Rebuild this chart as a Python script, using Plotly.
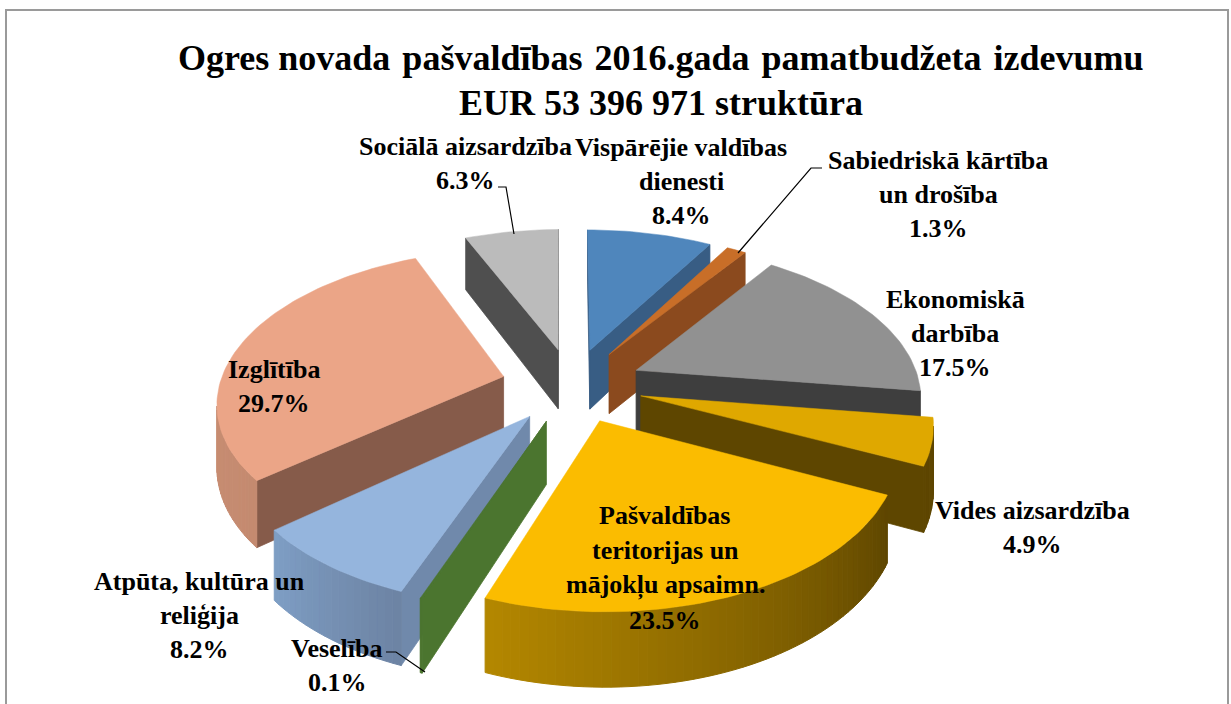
import math
import plotly.graph_objects as go

# ---- data ----
categories = ["Vispārējie valdības dienesti", "Sabiedriskā kārtība un drošība", "Ekonomiskā darbība",
              "Vides aizsardzība", "Pašvaldības teritorijas un mājokļu apsaimn.", "Veselība",
              "Atpūta, kultūra un reliģija", "Izglītība", "Sociālā aizsardzība"]
values = [8.4, 1.3, 17.5, 4.9, 23.5, 0.1, 8.2, 29.7, 6.3]
title_lines = ["Ogres novada \u200apašvaldības \u200a2016.gada \u200apamatbudžeta \u200aizdevumu", "EUR 53 396 971 struktūra"]

# ---- styles ----
top_colors = ["#4F86BC", "#C86E28", "#919191", "#DFA800", "#FBBC00", "#4B752F", "#95B5DD", "#EBA587", "#BBBBBB"]
cut_colors = ["#385D84", "#8B4A1E", "#3E3E3E", "#5E4600", "#5E4600", "#4B752F", "#7089AB", "#865B4A", "#4F4F4F"]
wall_a = ["#385D84", "#8B4A1E", "#3E3E3E", "#5E4600", "#5E4600", "#4B752F", "#6D84A4", "#C48A70", "#4F4F4F"]
wall_b = ["#385D84", "#8B4A1E", "#3E3E3E", "#5E4600", "#B58800", "#4B752F", "#7F9FC6", "#D09378", "#4F4F4F"]

CX, CY, RX, RY, K, ZH, EXPLODE = 572, 385, 284, 149, 0.155, 61, 0.25

def proj(X, Y, Z=0):
    s = 1 / (1 + K * Y)
    return CX + RX * X * s, CY - RY * Y * s + ZH * Z * s

def lerp(c1, c2, t):
    a = [int(c1[i:i + 2], 16) for i in (1, 3, 5)]
    b = [int(c2[i:i + 2], 16) for i in (1, 3, 5)]
    return "rgb(%d,%d,%d)" % tuple(round(p + (q - p) * t) for p, q in zip(a, b))

def area(pts):
    return sum(pts[i][0] * pts[(i + 1) % len(pts)][1] - pts[(i + 1) % len(pts)][0] * pts[i][1] for i in range(len(pts)))

fig = go.Figure()

def poly(pts, color, lw=0.8):
    xs = [p[0] for p in pts] + [pts[0][0]]
    ys = [p[1] for p in pts] + [pts[0][1]]
    fig.add_trace(go.Scatter(x=xs, y=ys, mode="lines", fill="toself", fillcolor=color,
                             line=dict(color=color, width=lw), hoverinfo="skip", showlegend=False))

slices = []
cum = 0.0
for i, v in enumerate(values):
    a0 = cum / 100 * 2 * math.pi
    a1 = (cum + v) / 100 * 2 * math.pi
    cum += v
    slices.append((math.cos((a0 + a1) / 2), i, a0, a1))

for _, i, a0, a1 in sorted(slices, key=lambda t: -t[0]):
    mid = (a0 + a1) / 2
    ox, oy = EXPLODE * math.sin(mid), EXPLODE * math.cos(mid)
    n = max(2, int((a1 - a0) / math.radians(1.5)))
    rim = [(ox + math.sin(a0 + (a1 - a0) * j / n), oy + math.cos(a0 + (a1 - a0) * j / n)) for j in range(n + 1)]
    # radial cut walls, only those that face the viewer
    for P, sign in ((rim[0], -1), (rim[-1], 1)):
        q = [proj(ox, oy), proj(*P), proj(P[0], P[1], 1), proj(ox, oy, 1)]
        if area(q) * sign > 0:
            poly(q, cut_colors[i])
    # outer wall
    for j in range(n):
        q = [proj(*rim[j]), proj(*rim[j + 1]), proj(rim[j + 1][0], rim[j + 1][1], 1), proj(rim[j][0], rim[j][1], 1)]
        if area(q) < 0:
            poly(q, lerp(wall_a[i], wall_b[i], j / n), 1.0)
    # top face
    poly([proj(ox, oy)] + [proj(*P) for P in rim], top_colors[i], 0.5)

annotations = []
def text(x, y, s, size):
    annotations.append(dict(x=x, y=y, xref="x", yref="y", text="<b>%s</b>" % s, showarrow=False,
                            xanchor="center", yanchor="middle",
                            font=dict(family="Liberation Serif", size=size, color="#000000")))

text(661, 58, title_lines[0], 36)
text(661, 103, title_lines[1], 36)

def pct(i):
    return "%.1f%%" % values[i]

label_lines = [
    (681, [(147, "Vispārējie valdības"), (181, "dienesti"), (215, pct(0))]),
    (938, [(160, "Sabiedriskā kārtība"), (194, "un drošība"), (228, pct(1))]),
    (955, [(299, "Ekonomiskā"), (333, "darbība"), (367, pct(2))]),
    (1032, [(510, "Vides aizsardzība"), (544, pct(3))]),
    (665, [(515, "Pašvaldības"), (550, "teritorijas un"), (585, "mājokļu apsaimn."), (620, pct(4))]),
    (337, [(648, "Veselība"), (682, pct(5))]),
    (199, [(581, "Atpūta, kultūra un"), (615, "reliģija"), (649, pct(6))]),
    (274, [(369, "Izglītība"), (403, pct(7))]),
    (465, [(146, "Sociālā aizsardzība"), (180, pct(8))]),
]
for x, lines in label_lines:
    for y, s in lines:
        text(x, y, s, 26)

leader = dict(type="path", line=dict(color="#000000", width=1.2))
shapes = [
    dict(type="rect", x0=6, y0=10, x1=1228, y1=720, line=dict(color="#9A9A9A", width=2), fillcolor="rgba(0,0,0,0)"),
    dict(path="M 498 187 L 506 187 L 514 234", **leader),
    dict(path="M 822 168 L 811 168 L 738 253", **leader),
    dict(path="M 386 652 L 396 652 L 425 672", **leader),
]

fig.update_layout(
    width=1231, height=704, autosize=False,
    margin=dict(l=0, r=0, t=0, b=0),
    paper_bgcolor="#FFFFFF", plot_bgcolor="#FFFFFF",
    xaxis=dict(range=[0, 1231], visible=False, fixedrange=True),
    yaxis=dict(range=[704, 0], visible=False, fixedrange=True),
    annotations=annotations, shapes=shapes, showlegend=False,
)
fig.write_html("out.html", config=dict(displayModeBar=False),
               post_script="document.body.style.margin='0';document.body.style.overflow='hidden';")
